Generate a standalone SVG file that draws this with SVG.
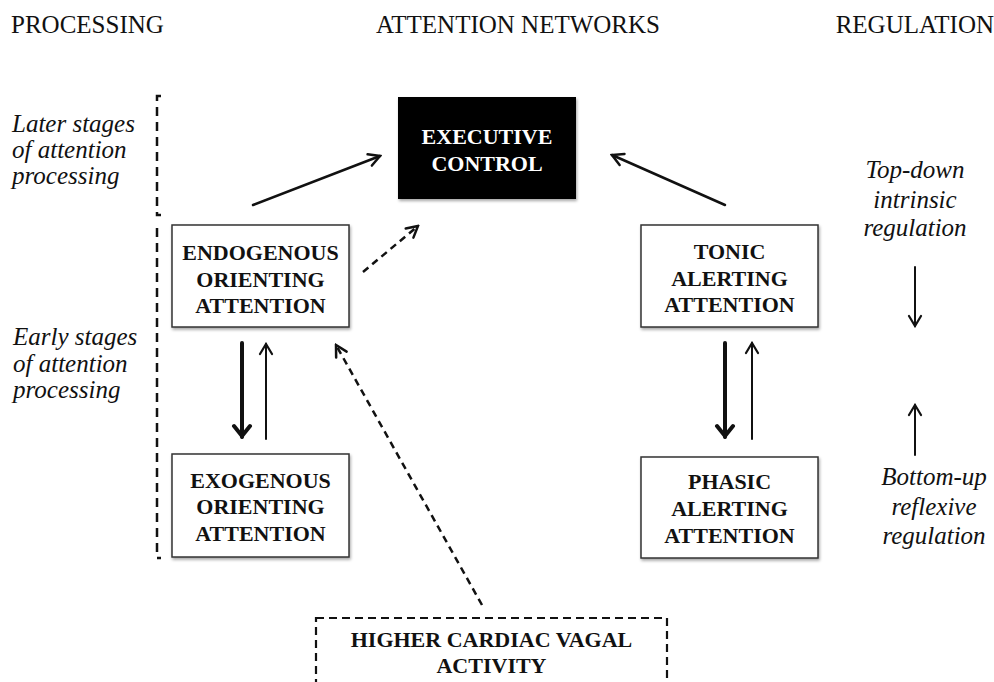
<svg xmlns="http://www.w3.org/2000/svg" width="994" height="682" viewBox="0 0 994 682">
<style>
.hdr{font-family:'Liberation Serif','Times New Roman',serif;font-size:25px;fill:#111}
.ital{font-family:'Liberation Serif','Times New Roman',serif;font-size:25px;font-style:italic;fill:#111}
.nt{font-family:'Liberation Serif','Times New Roman',serif;font-size:22px;font-weight:bold;fill:#111;text-anchor:middle}
.nt.w{fill:#fff}
.box{fill:#fff;stroke:#333;stroke-width:1.5}
.ln{fill:none;stroke:#111;stroke-width:2.5;stroke-linecap:round}
.dash{stroke-dasharray:7 5;stroke-linecap:butt}
.thick{stroke-width:4}
.thin{stroke-width:2}
.brk{fill:none;stroke:#111;stroke-width:2.5;stroke-dasharray:9 6}
</style>
<defs>
<filter id="sh" x="-10%" y="-10%" width="120%" height="130%">
<feDropShadow dx="1" dy="2" stdDeviation="1.5" flood-color="#000" flood-opacity="0.35"/>
</filter>
<marker id="ah" viewBox="-14 -9 16 18" refX="0" refY="0" markerWidth="16" markerHeight="18" orient="auto" markerUnits="userSpaceOnUse">
<path d="M-11,-6 L0,0 L-11,6" fill="none" stroke="#111" stroke-width="2.5" stroke-linecap="round"/>
</marker>
<marker id="ahT" viewBox="-14 -11 16 22" refX="0" refY="0" markerWidth="16" markerHeight="22" orient="auto" markerUnits="userSpaceOnUse">
<path d="M-11,-8 L-1,0 L-11,8" fill="none" stroke="#111" stroke-width="4" stroke-linecap="round"/>
</marker>
<marker id="ahS" viewBox="-14 -9 16 18" refX="0" refY="0" markerWidth="16" markerHeight="18" orient="auto" markerUnits="userSpaceOnUse">
<path d="M-10,-6 L0,0 L-10,6" fill="none" stroke="#111" stroke-width="2.2" stroke-linecap="round"/>
</marker>
</defs>

<g id="headers">
<text class="hdr" x="11" y="33">PROCESSING</text>
<text class="hdr" x="518" y="33" text-anchor="middle">ATTENTION NETWORKS</text>
<text class="hdr" x="994" y="33" text-anchor="end">REGULATION</text>
</g>

<g id="processing-labels">
<path class="brk" d="M161,96 L157,96 L157,215 L161,215"/>
<path class="brk" d="M157,228 L157,558 L161,558"/>
<text class="ital" x="12" y="132">Later stages</text>
<text class="ital" x="12" y="158">of attention</text>
<text class="ital" x="12" y="184">processing</text>
<text class="ital" x="13" y="345">Early stages</text>
<text class="ital" x="13" y="372">of attention</text>
<text class="ital" x="13" y="398">processing</text>
</g>

<g id="regulation-labels">
<text class="ital" x="915" y="178" text-anchor="middle">Top-down</text>
<text class="ital" x="915" y="208" text-anchor="middle">intrinsic</text>
<text class="ital" x="915" y="236" text-anchor="middle">regulation</text>
<text class="ital" x="934" y="485" text-anchor="middle">Bottom-up</text>
<text class="ital" x="934" y="515" text-anchor="middle">reflexive</text>
<text class="ital" x="934" y="544" text-anchor="middle">regulation</text>
</g>

<g id="executive-control">
<rect x="398" y="97" width="178" height="102" fill="#000" filter="url(#sh)"/>
<text class="nt w" x="487" y="144">EXECUTIVE</text>
<text class="nt w" x="487" y="171">CONTROL</text>
</g>

<g id="endogenous">
<rect class="box" x="172" y="225" width="177" height="102" filter="url(#sh)"/>
<text class="nt" x="260.5" y="260">ENDOGENOUS</text>
<text class="nt" x="260.5" y="286.5">ORIENTING</text>
<text class="nt" x="260.5" y="312.5">ATTENTION</text>
</g>

<g id="exogenous">
<rect class="box" x="172" y="454" width="177" height="103" filter="url(#sh)"/>
<text class="nt" x="260.5" y="488">EXOGENOUS</text>
<text class="nt" x="260.5" y="514">ORIENTING</text>
<text class="nt" x="260.5" y="541">ATTENTION</text>
</g>

<g id="tonic">
<rect class="box" x="641" y="225" width="177" height="102" filter="url(#sh)"/>
<text class="nt" x="729.5" y="259">TONIC</text>
<text class="nt" x="729.5" y="286">ALERTING</text>
<text class="nt" x="729.5" y="312">ATTENTION</text>
</g>

<g id="phasic">
<rect class="box" x="641" y="457" width="177" height="101" filter="url(#sh)"/>
<text class="nt" x="729.5" y="489">PHASIC</text>
<text class="nt" x="729.5" y="516">ALERTING</text>
<text class="nt" x="729.5" y="543">ATTENTION</text>
</g>

<g id="vagal">
<rect x="316" y="618" width="351" height="80" fill="#fff" stroke="#111" stroke-width="2.2" stroke-dasharray="8 5"/>
<text class="nt" x="491.5" y="647">HIGHER CARDIAC VAGAL</text>
<text class="nt" x="491.5" y="673">ACTIVITY</text>
</g>

<g id="connectors">
<line class="ln" x1="253" y1="205" x2="380" y2="156" marker-end="url(#ah)"/>
<line class="ln" x1="725" y1="205" x2="612" y2="155" marker-end="url(#ah)"/>
<line class="ln dash" x1="363" y1="272" x2="418" y2="226" marker-end="url(#ah)"/>
<line class="ln dash" x1="482" y1="605" x2="336" y2="345" marker-end="url(#ah)"/>
<line class="ln thick" x1="242" y1="343" x2="242" y2="437" marker-end="url(#ahT)"/>
<line class="ln thin" x1="266" y1="439" x2="266" y2="344" marker-end="url(#ahS)"/>
<line class="ln thick" x1="725" y1="343" x2="725" y2="437" marker-end="url(#ahT)"/>
<line class="ln thin" x1="752" y1="439" x2="752" y2="343" marker-end="url(#ahS)"/>
<line class="ln thin" x1="915" y1="267" x2="915" y2="326" marker-end="url(#ahS)"/>
<line class="ln thin" x1="915" y1="455" x2="915" y2="405" marker-end="url(#ahS)"/>
</g>
</svg>
